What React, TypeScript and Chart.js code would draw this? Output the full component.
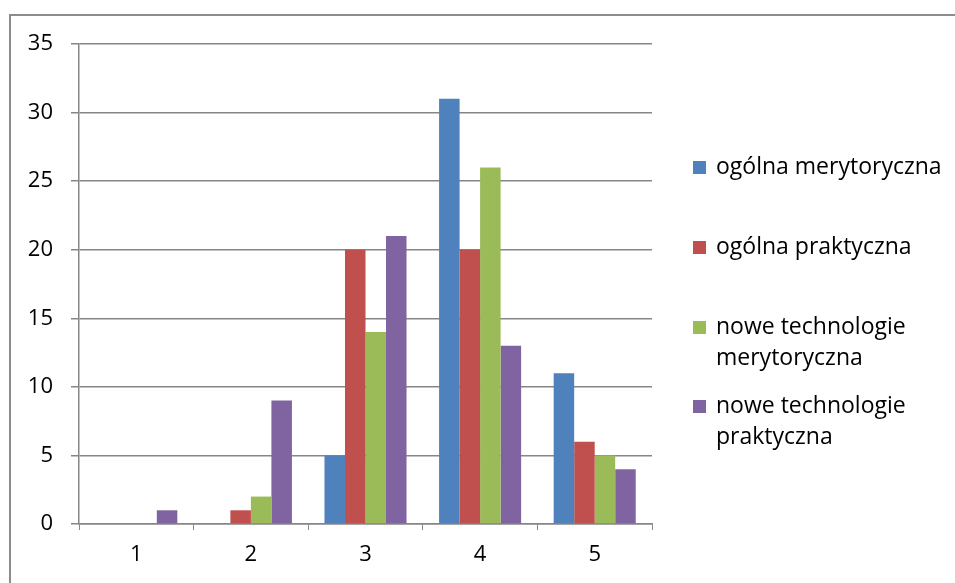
import React, { useEffect, useRef } from 'react';
import Chart from 'chart.js/auto';

// --- datos ---
const categories = ['1', '2', '3', '4', '5'];
const seriesNames = [
  'ogólna merytoryczna',
  'ogólna praktyczna',
  'nowe technologie merytoryczna',
  'nowe technologie praktyczna',
];
const legendLines = [
  ['ogólna merytoryczna'],
  ['ogólna praktyczna'],
  ['nowe technologie', 'merytoryczna'],
  ['nowe technologie', 'praktyczna'],
];
const ogolnaMerytoryczna = [0, 0, 5, 31, 11];
const ogolnaPraktyczna = [0, 1, 20, 20, 6];
const noweMerytoryczna = [0, 2, 14, 26, 5];
const nowePraktyczna = [1, 9, 21, 13, 4];
const colors = ['#4F81BD', '#C0504D', '#9BBB59', '#8064A2'];

const FONT = '"Open Sans", "Noto Sans", sans-serif';
const GRID = '#868686';

export default function App() {
  const canvasRef = useRef<HTMLCanvasElement>(null);

  useEffect(() => {
    document.body.style.margin = '0';
    const ctx = canvasRef.current?.getContext('2d');
    if (!ctx) return;
    const values = [ogolnaMerytoryczna, ogolnaPraktyczna, noweMerytoryczna, nowePraktyczna];
    const chart = new Chart(ctx, {
      type: 'bar',
      data: {
        labels: categories,
        datasets: values.map((v, i) => ({
          label: seriesNames[i],
          data: v,
          backgroundColor: colors[i],
          borderWidth: 0,
          barPercentage: 1,
          categoryPercentage: 0.716,
        })),
      },
      options: {
        animation: false,
        responsive: false,
        layout: { padding: { top: 44, right: 303, bottom: 0, left: 0 } },
        plugins: { legend: { display: false }, tooltip: { enabled: false } },
        scales: {
          x: {
            grid: { drawOnChartArea: false, drawTicks: true, tickLength: 6, color: GRID },
            border: { color: GRID, width: 1.5 },
            ticks: { color: '#000', font: { family: FONT, size: 22 }, padding: 12 },
            afterFit: (s: any) => { s.height = 59; },
          },
          y: {
            min: 0,
            max: 35,
            ticks: { stepSize: 5, color: '#000', font: { family: FONT, size: 22 }, padding: 18 },
            grid: { color: GRID, lineWidth: 1.5, tickLength: 8 },
            border: { color: GRID, width: 1.5 },
            afterFit: (s: any) => { s.width = 79; },
          },
        },
      },
    });
    return () => chart.destroy();
  }, []);

  return (
    <div style={{ position: 'relative', width: 955, height: 583, background: '#fff', overflow: 'hidden' }}>
      <div style={{ position: 'absolute', left: 9, top: 14, width: 960, height: 600, border: '2px solid #8c8c8c', boxSizing: 'border-box' }} />
      <canvas ref={canvasRef} width={955} height={583} style={{ position: 'absolute', left: 0, top: 0 }} />
      {legendLines.map((lines, i) => (
        <div key={i} style={{ position: 'absolute', left: 693, top: [150, 230, 310, 389][i], fontFamily: FONT, fontSize: 23, lineHeight: '31px', color: '#000' }}>
          <span style={{ position: 'absolute', left: 0, top: 11, width: 13, height: 13, background: colors[i] }} />
          {lines.map((t, j) => (
            <div key={j} style={{ marginLeft: 23, whiteSpace: 'nowrap' }}>{t}</div>
          ))}
        </div>
      ))}
    </div>
  );
}
